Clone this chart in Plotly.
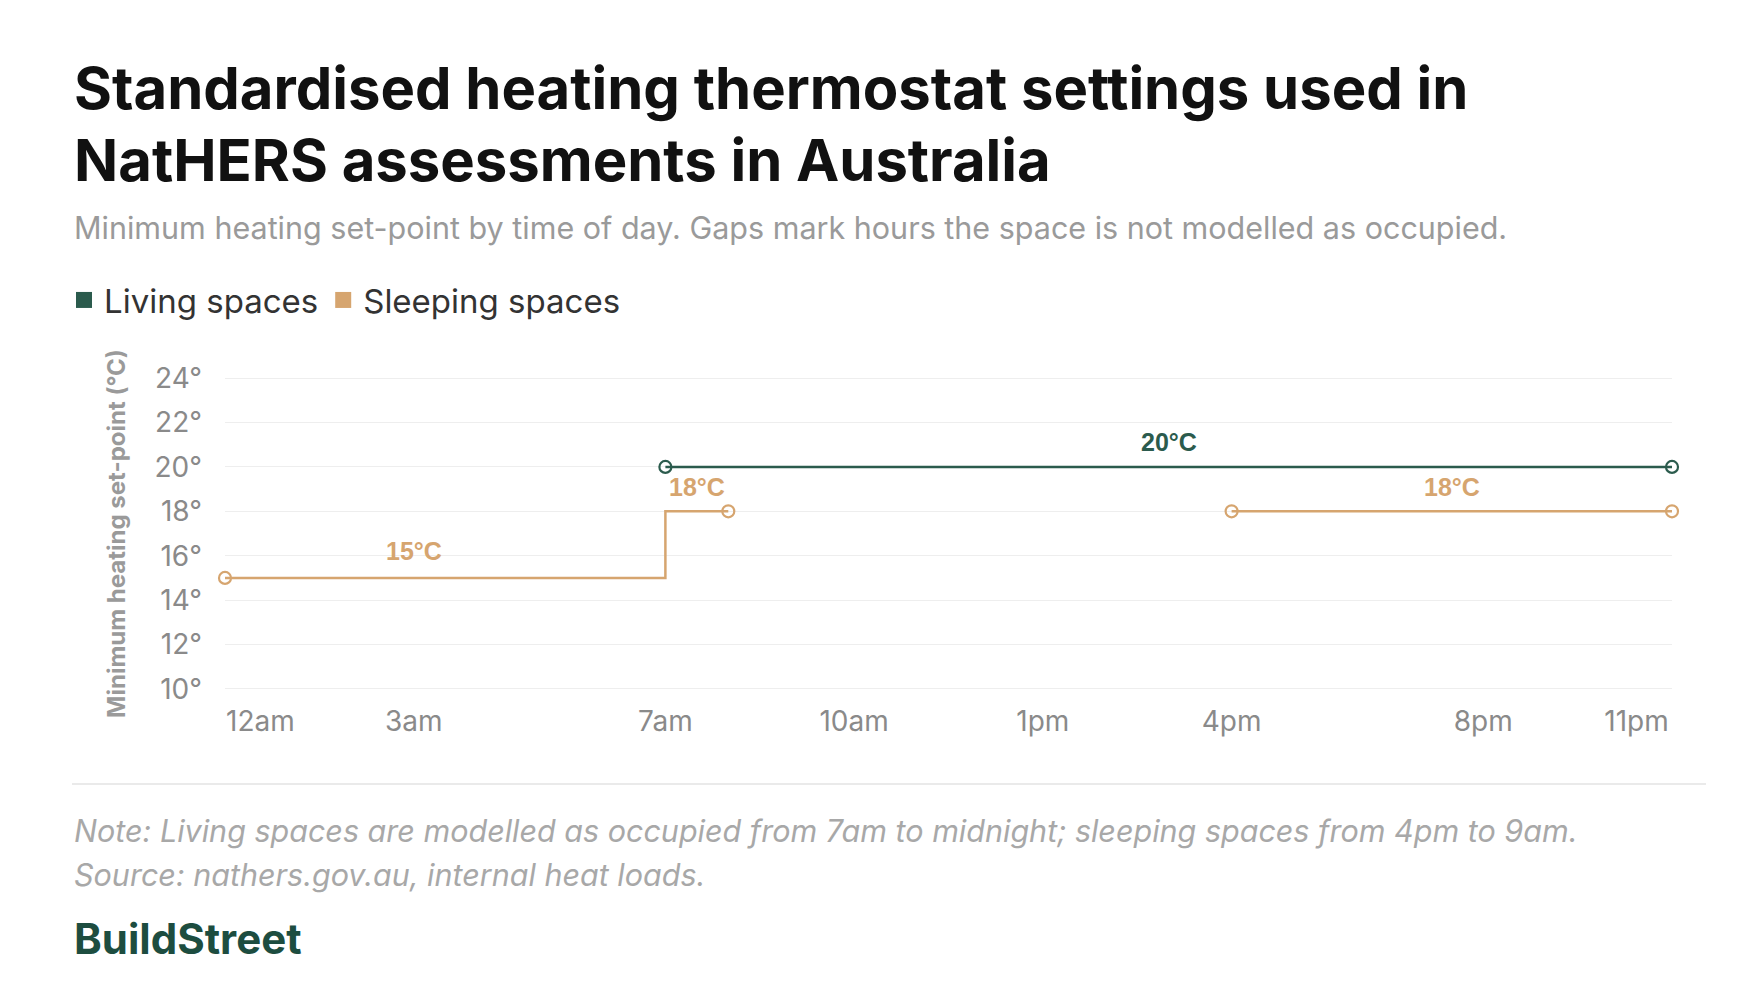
import plotly.graph_objects as go

# hours of day (0 = midnight)
living_hours = [7, 23]
living_temp = [20, 20]
sleep_am_hours = [0, 7, 8]
sleep_am_temp = [15, 18, 18]
sleep_pm_hours = [16, 23]
sleep_pm_temp = [18, 18]

tick_hours = [0, 3, 7, 10, 13, 16, 20, 23]
tick_labels = ["12am", "3am", "7am", "10am", "1pm", "4pm", "8pm", "11pm"]
y_ticks = [10, 12, 14, 16, 18, 20, 22, 24]

GREEN = "#2b5b4d"
TAN = "#d6a56f"
W, H = 1760, 1000
L, R, T, B = 217, 96, 369, 318
PW, PH = W - L - R, H - T - B
NB = "\u00a0"


def px(x):
    return (x - L) / PW


def py(y):
    return (H - B - y) / PH


fig = go.Figure()


def seg(x, y, color, shape):
    fig.add_trace(go.Scatter(
        x=x, y=y, mode="lines", line=dict(color=color, width=2.5, shape=shape),
        showlegend=False, hoverinfo="skip", cliponaxis=False))
    fig.add_trace(go.Scatter(
        x=[x[0], x[-1]], y=[y[0], y[-1]], mode="markers", cliponaxis=False,
        marker=dict(symbol="circle-open", size=12, color=color, line=dict(width=2.2)),
        showlegend=False, hoverinfo="skip"))


seg(sleep_am_hours, sleep_am_temp, TAN, "hv")
seg(sleep_pm_hours, sleep_pm_temp, TAN, "linear")
seg(living_hours, living_temp, GREEN, "linear")

for name, c in [("Living spaces", GREEN), ("Sleeping spaces", TAN)]:
    fig.add_trace(go.Scatter(x=[None], y=[None], mode="markers", name=name,
                             marker=dict(symbol="square", size=24, color=c)))

labels = [(15, "20°C", GREEN, 21.1), (3, "15°C", TAN, 16.2),
          (7.5, "18°C", TAN, 19.1), (19.5, "18°C", TAN, 19.1)]
for x, txt, c, ty in labels:
    fig.add_annotation(x=x, y=ty, text=f"<b>{txt}</b>", showarrow=False,
                       font=dict(size=25, color=c, family="Liberation Sans"))


def text(xp, yp, s, size, color, anchor="left"):
    fig.add_annotation(xref="paper", yref="paper", x=px(xp), y=py(yp), text=s,
                       showarrow=False, xanchor=anchor, yanchor="middle",
                       font=dict(size=size, color=color, family="Inter"))


text(64, 80, "<b>Standardised heating thermostat settings used in</b>", 58, "#111111")
text(64, 152, "<b>NatHERS assessments in Australia</b>", 58, "#111111")
text(64, 220, "Minimum heating set-point by time of day. Gaps mark hours the space is not modelled as occupied.", 30.5, "#9a9a9a")
text(64, 822, "<i>Note: Living spaces are modelled as occupied from 7am to midnight; sleeping spaces from 4pm to 9am.</i>", 30.5, "#a8a8a8")
text(64, 866, "<i>Source: nathers.gov.au, internal heat loads.</i>", 30.5, "#a8a8a8")
text(64, 930, "<b>BuildStreet</b>", 42, "#1d4d40")

fig.add_shape(type="line", xref="paper", yref="paper", x0=px(64), x1=px(1698),
              y0=py(776), y1=py(776), line=dict(color="#e3e3e3", width=1.5))

fig.update_layout(
    width=W, height=H, margin=dict(l=L, r=R, t=T, b=B),
    plot_bgcolor="white", paper_bgcolor="white",
    font=dict(family="Inter", color="#8a8a8a"),
    legend=dict(orientation="h", x=px(56), y=py(292), xanchor="left", yanchor="middle",
                font=dict(size=33, color="#333333"), itemwidth=30, entrywidthmode="pixels"),
    xaxis=dict(range=[0, 23], tickvals=tick_hours,
               ticktext=[NB * 9 + tick_labels[0]] + tick_labels[1:-1] + [tick_labels[-1] + NB * 9],
               showgrid=False, zeroline=False, showline=False,
               tickfont=dict(size=28, color="#8a8a8a"), ticklen=0),
    yaxis=dict(range=[9.95, 24.05], tickvals=y_ticks, ticktext=[f"{v}°" for v in y_ticks],
               gridcolor="#eeeeee", zeroline=False, showline=False,
               tickfont=dict(size=28, color="#8a8a8a"), ticklen=0,
               title=dict(text="<b>Minimum heating set-point (°C)</b>", standoff=22,
                          font=dict(size=24, color="#9a9a9a"))),
)
fig.update_xaxes(ticklabelstandoff=12)
fig.update_yaxes(ticklabelstandoff=22)

fig.write_html("out.html")
